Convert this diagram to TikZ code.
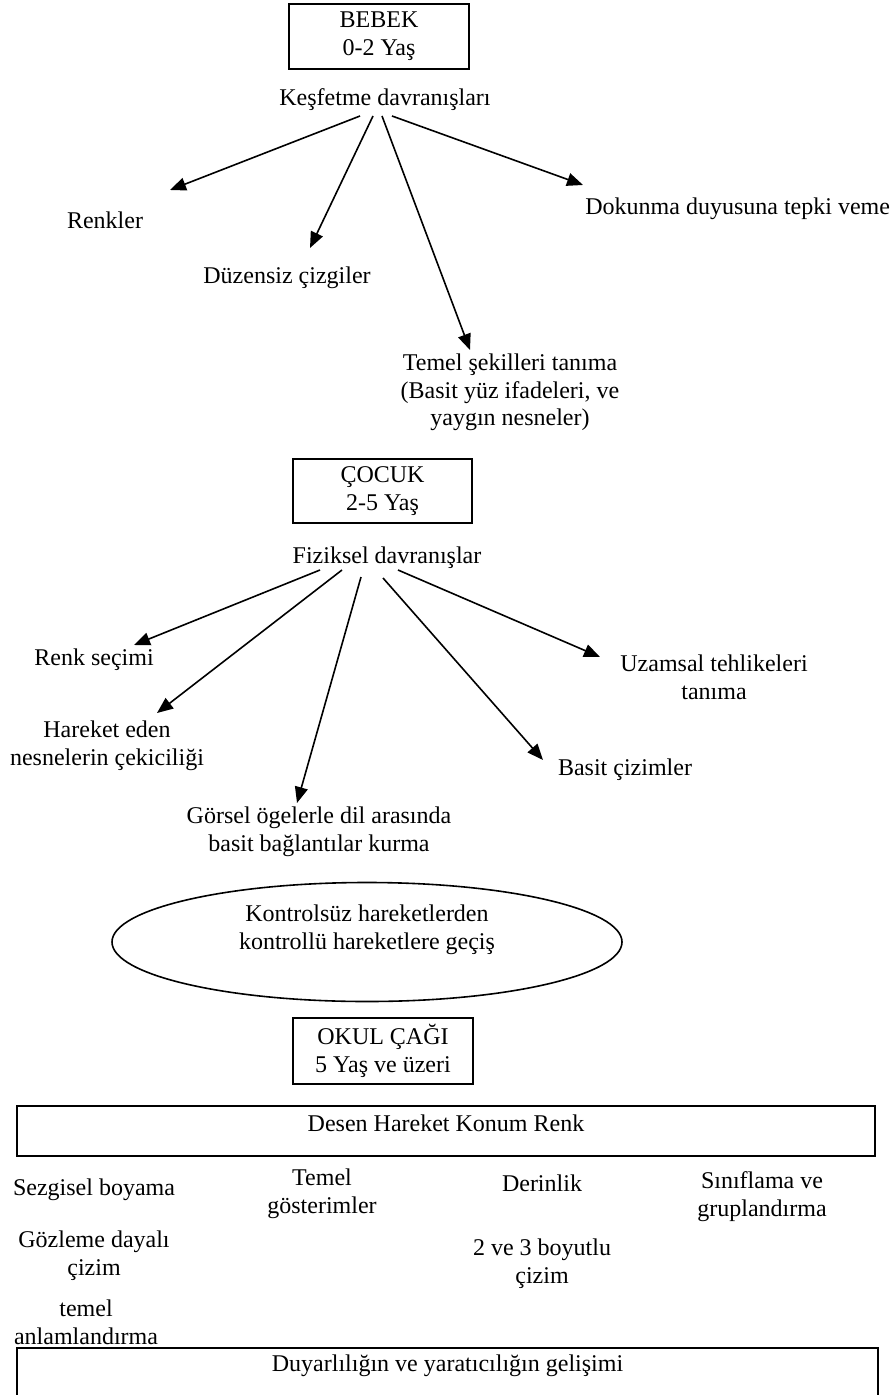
\documentclass[tikz,border=0pt]{standalone}
\usepackage{fontspec}
\setmainfont{Liberation Serif}
\usetikzlibrary{arrows.meta,shapes.geometric}

\begin{document}
\begin{tikzpicture}[x=0.5pt,y=-0.5pt,
  font=\fontsize{12}{13.8}\selectfont,
  kutu/.style={draw,line width=0.8pt,align=center,minimum width=90pt,minimum height=32.5pt},
  serit/.style={draw,line width=0.8pt,inner ysep=0pt,anchor=base},
  yazi/.style={align=center,inner sep=0pt},
  ok/.style={line width=0.8pt,-{Triangle[length=8pt,width=6.5pt]}}]
  \useasboundingbox (0,0) rectangle (895,1395);
  \clip (0,0) rectangle (895,1395);
  % bebek
  \path (379,36.5) node[kutu] (bebek) {BEBEK\\0-2 Yaş};
  \path (385,100) node[yazi] (kesfet) {Keşfetme davranışları};
  \path (105,220) node[yazi] (renkler) {Renkler};
  \path (287,278) node[yazi] (duzensiz) {Düzensiz çizgiler};
  \path (510,392.5) node[yazi] (temelsekil) {Temel şekilleri tanıma\\(Basit yüz ifadeleri, ve\\yaygın nesneler)};
  \path (585,209) node[yazi,anchor=west] (dokunma) {Dokunma duyusuna tepki veme};
  \draw[ok] ([shift={(-25,16)}]kesfet.center) -- ([shift={(65,-30)}]renkler.center);
  \draw[ok] ([shift={(-12,16)}]kesfet.center) -- ([shift={(23,-30)}]duzensiz.center);
  \draw[ok] ([shift={(-3,16)}]kesfet.center) -- ([shift={(-40,-42.5)}]temelsekil.center);
  \draw[ok] ([shift={(7,16)}]kesfet.center) -- ([shift={(-2,-24)}]dokunma.west);
  % cocuk
  \path (382.5,491) node[kutu,minimum width=89.5pt,minimum height=32pt] (cocuk) {ÇOCUK\\2-5 Yaş};
  \path (387,558) node[yazi] (fiziksel) {Fiziksel davranışlar};
  \path (94,660) node[yazi] (renksec) {Renk seçimi};
  \path (107,746) node[yazi] (hareket) {Hareket eden\\nesnelerin çekiciliği};
  \path (319,832) node[yazi] (gorsel) {Görsel ögelerle dil arasında\\basit bağlantılar kurma};
  \path (625,770) node[yazi] (basitciz) {Basit çizimler};
  \path (714,677.5) node[yazi] (uzamsal) {Uzamsal tehlikeleri\\tanıma};
  \draw[ok] ([shift={(-67,12)}]fiziksel.center) -- ([shift={(40,-15)}]renksec.center);
  \draw[ok] ([shift={(-45,12)}]fiziksel.center) -- ([shift={(50,-33)}]hareket.center);
  \draw[ok] ([shift={(-26,19)}]fiziksel.center) -- ([shift={(-22,-29)}]gorsel.center);
  \draw[ok] ([shift={(-4,20)}]fiziksel.center) -- ([shift={(-82,-10)}]basitciz.center);
  \draw[ok] ([shift={(11,12)}]fiziksel.center) -- ([shift={(-114,-20.5)}]uzamsal.center);
  % gecis
  \path (367,942) node[draw,ellipse,line width=0.8pt,minimum width=255pt,minimum height=59.5pt,inner sep=0pt] (gecis) {};
  \path (367,930) node[yazi] (gecisyazi) {Kontrolsüz hareketlerden\\kontrollü hareketlere geçiş};
  % okul cagi
  \path (383,1051) node[kutu,minimum height=33pt] (okul) {OKUL ÇAĞI\\5 Yaş ve üzeri};
  \path (446,1131) node[serit,minimum width=429pt,text height=12.5pt,text depth=12.5pt] (desen) {Desen Hareket Konum Renk};
  \path (94,1190) node[yazi] (sezgisel) {Sezgisel boyama};
  \path (322,1194) node[yazi] (gosterim) {Temel\\gösterimler};
  \path (542,1183) node[yazi] (derinlik) {Derinlik};
  \path (762,1196.5) node[yazi] (sinif) {Sınıflama ve\\gruplandırma};
  \path (94,1256) node[yazi] (gozlem) {Gözleme dayalı\\çizim};
  \path (542,1263.5) node[yazi] (boyut) {2 ve 3 boyutlu\\çizim};
  \path (86,1322.5) node[yazi] (anlam) {temel\\anlamlandırma};
  \path (447.5,1371) node[serit,minimum width=430.5pt,text height=11.5pt,text depth=20pt] (duyarlilik) {Duyarlılığın ve yaratıcılığın gelişimi};
\end{tikzpicture}
\end{document}
